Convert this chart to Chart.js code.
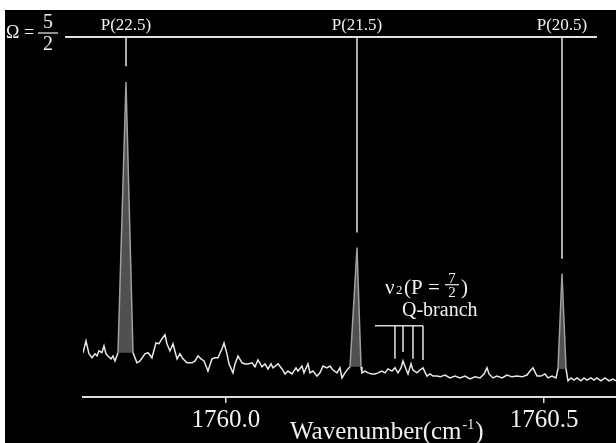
<!DOCTYPE html>
<html>
<head>
<meta charset="utf-8">
<script src="https://cdn.jsdelivr.net/npm/chart.js@4"></script>
<style>
  html, body { margin: 0; padding: 0; background: #fff; }
  #wrap { position: absolute; left: 5px; top: 10px; width: 611px; height: 433px; background: #000; }
</style>
</head>
<body>
<div id="wrap"><canvas id="myChart" width="611" height="433"></canvas></div>
<script>
// spectrum (wavenumber in cm-1, intensity in arbitrary units)
const wavenumber = [
  1759.7752, 1759.7799, 1759.7846, 1759.7893, 1759.7940, 1759.7972, 1759.8003, 1759.8050, 1759.8082, 1759.8113,
  1759.8145, 1759.8192, 1759.8223, 1759.8255, 1759.8302, 1759.8428, 1759.8538, 1759.8601, 1759.8648, 1759.8726,
  1759.8774, 1759.8836, 1759.8899, 1759.8947, 1759.8994, 1759.9041, 1759.9072, 1759.9119, 1759.9167, 1759.9230,
  1759.9277, 1759.9324, 1759.9387, 1759.9465, 1759.9513, 1759.9560, 1759.9607, 1759.9654, 1759.9717, 1759.9780,
  1759.9827, 1759.9874, 1759.9937, 1759.9969, 1760.0016, 1760.0047, 1760.0110, 1760.0142, 1760.0189, 1760.0252,
  1760.0299, 1760.0346, 1760.0409, 1760.0456, 1760.0503, 1760.0566, 1760.0613, 1760.0660, 1760.0708, 1760.0739,
  1760.0818, 1760.0881, 1760.0928, 1760.0975, 1760.1038, 1760.1101, 1760.1132, 1760.1195, 1760.1226, 1760.1289,
  1760.1321, 1760.1368, 1760.1431, 1760.1478, 1760.1525, 1760.1588, 1760.1635, 1760.1682, 1760.1745, 1760.1792,
  1760.1824, 1760.1871, 1760.1918, 1760.1950, 1760.2060, 1760.2123, 1760.2138, 1760.2186, 1760.2233, 1760.2296,
  1760.2343, 1760.2390, 1760.2453, 1760.2500, 1760.2547, 1760.2610, 1760.2657, 1760.2704, 1760.2752, 1760.2783,
  1760.2830, 1760.2862, 1760.2909, 1760.2940, 1760.3003, 1760.3050, 1760.3097, 1760.3160, 1760.3208, 1760.3255,
  1760.3318, 1760.3365, 1760.3443, 1760.3522, 1760.3601, 1760.3679, 1760.3758, 1760.3836, 1760.3915, 1760.3994,
  1760.4057, 1760.4104, 1760.4135, 1760.4198, 1760.4261, 1760.4340, 1760.4418, 1760.4497, 1760.4575, 1760.4654,
  1760.4733, 1760.4780, 1760.4827, 1760.4890, 1760.4953, 1760.5016, 1760.5063, 1760.5126, 1760.5189, 1760.5220,
  1760.5283, 1760.5346, 1760.5377, 1760.5425, 1760.5472, 1760.5519, 1760.5582, 1760.5629, 1760.5676, 1760.5739,
  1760.5786, 1760.5833, 1760.5896, 1760.5959, 1760.6022, 1760.6085, 1760.6132
];
const intensity = [
  12.3, 15.6, 12.0, 10.9, 12.0, 11.4, 12.8, 12.3, 14.2, 12.0,
  11.4, 10.6, 11.4, 10.0, 12.3, 87.5, 12.3, 9.5, 10.0, 12.0,
  12.3, 10.9, 15.0, 14.8, 16.2, 17.3, 14.8, 12.8, 14.8, 10.6,
  12.0, 10.6, 9.5, 9.5, 10.0, 11.4, 10.6, 10.0, 7.2, 10.6,
  10.9, 10.9, 13.4, 15.0, 12.0, 9.2, 6.7, 9.2, 11.4, 9.5,
  9.2, 9.2, 9.5, 8.4, 10.3, 8.4, 9.2, 7.8, 9.2, 8.1,
  9.2, 7.8, 6.4, 7.2, 6.4, 8.1, 7.2, 8.6, 6.7, 9.2,
  6.7, 7.2, 5.8, 6.7, 8.6, 8.1, 8.6, 7.5, 6.7, 8.1,
  5.3, 6.7, 7.8, 8.4, 41.5, 8.4, 6.7, 7.2, 6.7, 6.4,
  6.4, 6.7, 7.2, 6.7, 7.8, 7.2, 8.1, 6.7, 8.1, 10.0,
  7.8, 6.4, 9.2, 7.5, 6.7, 7.5, 8.1, 5.8, 6.4, 5.8,
  5.8, 5.6, 6.1, 5.3, 5.8, 5.3, 5.8, 5.0, 5.6, 5.3,
  6.4, 8.1, 6.4, 5.3, 5.8, 5.3, 6.1, 5.6, 5.8, 5.6,
  6.1, 7.2, 8.1, 5.8, 5.8, 6.4, 5.3, 5.8, 5.3, 7.8,
  34.3, 7.8, 4.5, 5.3, 4.7, 5.3, 4.5, 5.3, 4.7, 5.3,
  4.7, 5.3, 4.5, 5.3, 4.5, 5.0, 4.5
];

// assigned lines
const peakNames = ["P(22.5)", "P(21.5)", "P(20.5)"];
const peakPos = [1759.8428, 1760.2060, 1760.5283];
const peakHeight = [87.5, 41.5, 34.3];
const peakLeft = [1759.8302, 1760.1950, 1760.5220];
const peakRight = [1759.8538, 1760.2123, 1760.5346];
const peakBase = [12.3, 8.4, 7.8];
const markerEnd = [91.9, 45.7, 38.4];

// Q-branch comb
const qBracketLeft = 1760.2343;
const qBracketLevel = 19.8;
const qBranchPos = [1760.2657, 1760.2783, 1760.2940, 1760.3097];
const qBranchEnd = [10.6, 12.5, 10.6, 10.3];

// Omega = 5/2 bar
const omegaBar = [1759.7469, 1760.5833];
const omegaLevel = 100;

const xTicks = [1760.0, 1760.5];
const xMin = 1759.7752, xMax = 1760.6132;

const serif = '"Liberation Serif", "Times New Roman", serif';
const ink = "#f0f0f0";

const spectrum = wavenumber.map((w, i) => ({ x: w, y: intensity[i] }));

const inPeak = (w) => peakLeft.some((l, i) => w >= l - 1e-6 && w <= peakRight[i] + 1e-6);

const fills = peakPos.map((p, i) => ({
  data: [
    { x: peakLeft[i], y: peakBase[i] },
    { x: p, y: peakHeight[i] },
    { x: peakRight[i], y: peakBase[i] },
  ],
  borderWidth: 0,
  backgroundColor: "#505050",
  fill: { value: peakBase[i] },
  pointRadius: 0,
  order: 2,
}));

const markers = [];
peakPos.forEach((p, i) => {
  markers.push({ x: p, y: omegaLevel }, { x: p, y: markerEnd[i] }, { x: p, y: null });
});

const comb = [{ x: qBracketLeft, y: qBracketLevel }, { x: qBranchPos[3], y: qBracketLevel }, { x: qBracketLeft, y: null }];
qBranchPos.forEach((p, i) => {
  comb.push({ x: p, y: qBracketLevel }, { x: p, y: qBranchEnd[i] }, { x: p, y: null });
});

const labels = {
  id: "labels",
  afterDatasetsDraw(chart) {
    const { ctx, scales: { x, y }, chartArea } = chart;
    ctx.save();
    ctx.fillStyle = ink;
    ctx.strokeStyle = ink;
    ctx.textBaseline = "alphabetic";

    // line names above the bar
    const top = y.getPixelForValue(omegaLevel);
    ctx.font = "17px " + serif;
    ctx.textAlign = "center";
    peakNames.forEach((n, i) => ctx.fillText(n, x.getPixelForValue(peakPos[i]), top - 7));

    // Omega = 5/2
    ctx.textAlign = "left";
    ctx.font = "18px " + serif;
    ctx.fillText("Ω =", 1, top + 1);
    ctx.font = "20px " + serif;
    ctx.textAlign = "center";
    ctx.fillText("5", 43, top - 9);
    ctx.fillText("2", 43, top + 13);
    ctx.lineWidth = 1.2;
    ctx.beginPath();
    ctx.moveTo(33, top - 4);
    ctx.lineTo(53, top - 4);
    ctx.stroke();

    // nu2 (P = 7/2) Q-branch
    const qx = x.getPixelForValue(qBracketLeft);
    const qy = y.getPixelForValue(qBracketLevel);
    ctx.textAlign = "left";
    ctx.font = "21px " + serif;
    ctx.fillText("ν", qx + 10, qy - 32);
    ctx.font = "13px " + serif;
    ctx.fillText("2", qx + 21, qy - 32);
    ctx.font = "21px " + serif;
    ctx.fillText("(P =", qx + 29, qy - 32);
    ctx.fillText(")", qx + 86, qy - 32);
    ctx.font = "15px " + serif;
    ctx.textAlign = "center";
    ctx.fillText("7", qx + 77, qy - 43);
    ctx.fillText("2", qx + 77, qy - 29);
    ctx.beginPath();
    ctx.moveTo(qx + 70, qy - 41);
    ctx.lineTo(qx + 84, qy - 41);
    ctx.stroke();
    ctx.textAlign = "left";
    ctx.font = "20px " + serif;
    ctx.fillText("Q-branch", qx + 27, qy - 10);

    // axis title
    const bx = 285, by = chartArea.bottom + 42;
    ctx.font = "25px " + serif;
    ctx.fillText("Wavenumber(cm", bx, by);
    let w = ctx.measureText("Wavenumber(cm").width;
    ctx.font = "14px " + serif;
    ctx.fillText("-1", bx + w + 1, by - 10);
    w += ctx.measureText("-1").width + 2;
    ctx.font = "25px " + serif;
    ctx.fillText(")", bx + w, by);
    ctx.restore();
  },
};

const ctx = document.getElementById("myChart").getContext("2d");

const myChart = new Chart(ctx, {
  type: "line",
  data: {
    datasets: [
      {
        data: spectrum,
        borderColor: "#e8e8e8",
        borderWidth: 1.5,
        pointRadius: 0,
        tension: 0,
        order: 0,
        segment: {
          borderColor: (c) => (inPeak(c.p0.parsed.x) && inPeak(c.p1.parsed.x) ? "#a0a0a0" : undefined),
        },
      },
      ...fills,
      {
        data: markers,
        borderColor: "#d8d8d8",
        borderWidth: 1.6,
        pointRadius: 0,
        spanGaps: false,
        clip: false,
        order: 1,
      },
      {
        data: comb,
        borderColor: "#d8d8d8",
        borderWidth: 1.6,
        pointRadius: 0,
        spanGaps: false,
        order: 1,
      },
      {
        data: omegaBar.map((w) => ({ x: w, y: omegaLevel })),
        borderColor: "#e0e0e0",
        borderWidth: 2,
        pointRadius: 0,
        clip: false,
        order: 1,
      },
    ],
  },
  options: {
    responsive: false,
    animation: false,
    devicePixelRatio: 1,
    layout: { padding: { left: 78, right: 0, top: 27, bottom: 6 } },
    plugins: {
      legend: false,
      tooltip: { enabled: false },
    },
    scales: {
      x: {
        type: "linear",
        min: xMin,
        max: xMax,
        afterBuildTicks: (scale) => {
          scale.ticks = xTicks.map((v) => ({ value: v }));
        },
        ticks: {
          color: ink,
          font: { family: serif, size: 25 },
          padding: 2,
          maxRotation: 0,
          callback: (v) => Number(v).toFixed(1),
        },
        grid: {
          drawOnChartArea: false,
          drawTicks: true,
          tickLength: 6,
          color: "#dcdcdc",
          lineWidth: 1.5,
        },
        border: { display: true, color: "#dcdcdc", width: 2 },
      },
      y: {
        display: false,
        min: 0,
        max: 100,
      },
    },
  },
  plugins: [labels],
});
</script>
</body>
</html>
